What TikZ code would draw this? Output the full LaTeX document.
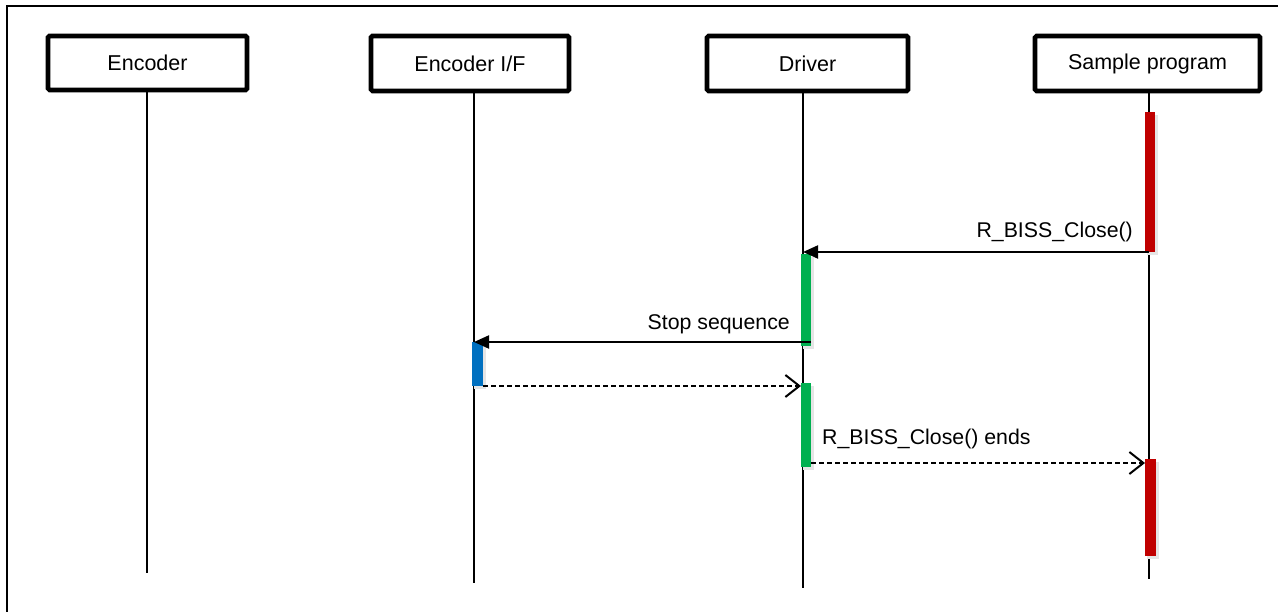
\documentclass[tikz,border=0pt]{standalone}
\usepackage{fontspec}
\setmainfont{Liberation Sans}
\usetikzlibrary{arrows.meta}
\definecolor{barred}{RGB}{192,0,0}
\definecolor{bargreen}{RGB}{0,176,80}
\definecolor{barblue}{RGB}{0,112,192}
\tikzset{
  actor/.style={draw=black, line width=4.6pt, rounded corners=1.5pt, fill=white, inner sep=0pt, font=\fontsize{21.5}{25}\selectfont},
  life/.style={line width=2pt},
  bar/.style={inner sep=0pt, minimum width=10pt, anchor=north west},
  shade/.style={fill=black!10},
  call/.style={line width=2pt, -{Triangle[length=15pt,width=13pt]}},
  reply/.style={line width=2pt, dash pattern=on 5pt off 3pt, -{Straight Barb[length=14pt,width=22pt,line width=2pt]}},
  lbl/.style={font=\fontsize{21.3}{25}\selectfont, inner sep=0pt}
}
\begin{document}
\begin{tikzpicture}[x=1pt,y=-1pt]
\useasboundingbox (0,0) rectangle (1278,612);
% frame
\draw[line width=2pt] (7,613) -- (7,6) -- (1279,6);
% actors
\node[actor, minimum width=199pt, minimum height=54pt] (enc) at (147.5,63) {Encoder};
\node[actor, minimum width=198pt, minimum height=55pt] (eif) at (470,63.5) {Encoder I/F};
\node[actor, minimum width=201pt, minimum height=55pt] (drv) at (807.5,63.5) {Driver};
\node[actor, minimum width=225pt, minimum height=55pt] (spg) at (1147.5,63.5) {Sample program};
% lifelines
\coordinate (encT) at (147,91); \coordinate (encB) at (147,573);
\coordinate (eifT) at (474,92); \coordinate (eifB) at (474,583);
\coordinate (drvT) at (803,92); \coordinate (drvB) at (803,588);
\coordinate (spgT) at (1149,92); \coordinate (spgB) at (1149,579);
\draw[life] (encT) -- (encB);
\draw[life] (eifT) -- (eifB);
\draw[life] (drvT) -- (drvB);
\draw[life] (spgT) -- (spgB);
% shadows of bars
\fill[shade] (1147,115) rectangle (1158,255);
\fill[shade] (803,257) rectangle (814,349);
\fill[shade] (474,345) rectangle (486,389);
\fill[shade] (803,386) rectangle (814,470);
\fill[shade] (1147,462) rectangle (1159,559);
% activation bars
\node[bar, fill=barred, minimum height=140pt] (sp1) at (1145,112) {};
\node[bar, fill=bargreen, minimum height=92pt] (dr1) at (801,254) {};
\node[bar, fill=barblue, minimum width=11pt, minimum height=44pt] (if1) at (472,342) {};
\node[bar, fill=bargreen, minimum height=84pt] (dr2) at (801,383) {};
\node[bar, fill=barred, minimum width=11pt, minimum height=97pt] (sp2) at (1145,459) {};
% messages
\coordinate (m1s) at (1149,252);
\coordinate (m2s) at (811,342);
\coordinate (m3s) at (483,386);
\coordinate (m4s) at (811,463);
\draw[call] (m1s) -- (m1s -| drvT);
\node[lbl, anchor=base east] at (1133,238) {R\_BISS\_Close()};
\draw[call] (m2s) -- (m2s -| eifT);
\node[lbl, anchor=base east] at (790,330) {Stop sequence};
\draw[reply] (m3s) -- (m3s -| dr2.west);
\draw[reply] (m4s) -- (m4s -| sp2.west);
\node[lbl, anchor=base west] at (822,444) {R\_BISS\_Close() ends};
\end{tikzpicture}
\end{document}
